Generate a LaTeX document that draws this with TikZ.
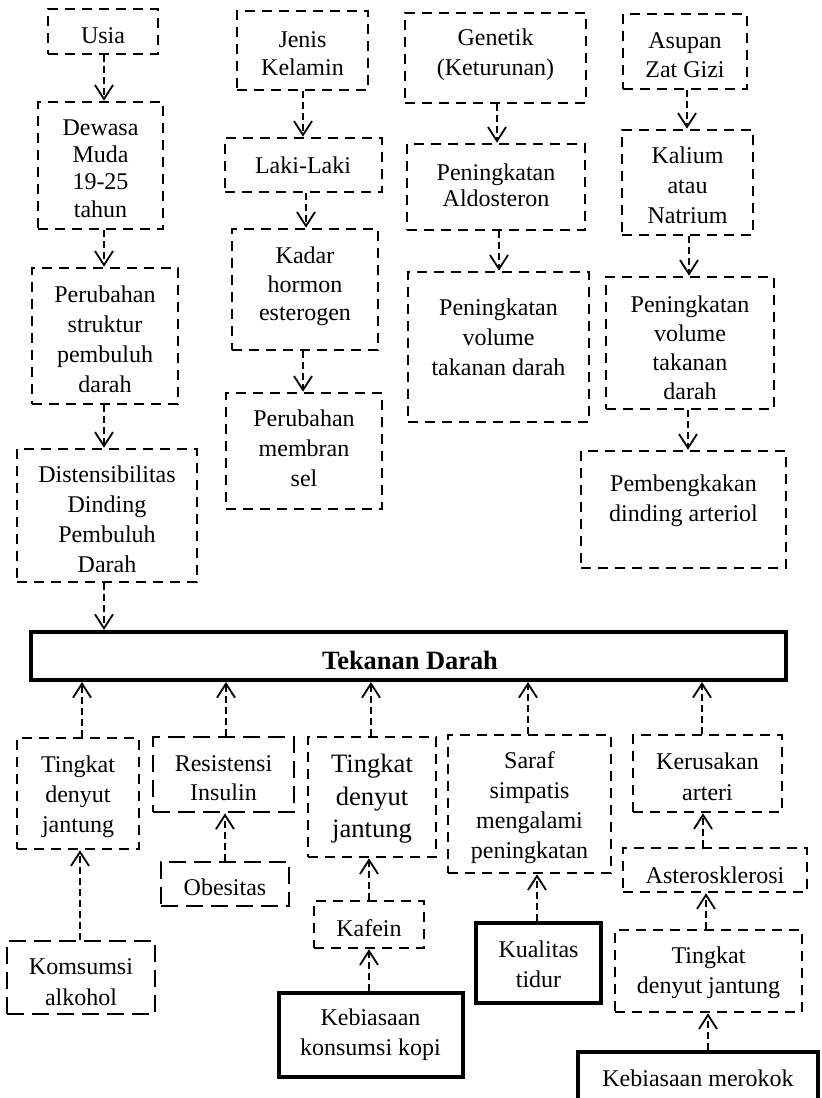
\documentclass[tikz,border=0pt]{standalone}
\usepackage{fontspec}
\setmainfont{Liberation Serif}
\usetikzlibrary{arrows.meta}
\newcommand\bx[6]{\node[#1, minimum width={(#5)-(#3)}, minimum height={(#6)-(#4)}] (#2) at ({((#3)+(#5))/2},{((#4)+(#6))/2}) {};}
\newcommand\cn[3]{\draw[arr] (#1,0 |- #2) -- (#1,0 |- #3);}
\begin{document}
\begin{tikzpicture}[x=1pt,y=-1pt,
  dbox/.style={draw, line width=2.6pt, dash pattern=on 10pt off 7pt, inner sep=0pt},
  lbox/.style={draw, line width=2.9pt, dash pattern=on 17pt off 8pt, inner sep=0pt},
  sbox/.style={draw, line width=4pt, inner sep=0pt},
  txt/.style={align=center, inner sep=0pt, font=\fontsize{24}{30}\selectfont},
  arr/.style={line width=1.8pt, dash pattern=on 7pt off 4pt, -{Straight Barb[length=14pt,width=18pt,line width=1.8pt]}}
]
\useasboundingbox (0,0) rectangle (822,1098);
% ---- top boxes
\bx{dbox}{usia}{48}{9}{158}{54}
\node[txt] (usia-t) at (103,36) {Usia};
\bx{dbox}{dewasa}{38}{102}{163}{229}
\node[txt, font=\fontsize{24}{27.4}\selectfont] (dewasa-t) at (100.5,168.5) {Dewasa\\Muda\\19-25\\tahun};
\bx{dbox}{struktur}{32}{268}{178}{404}
\node[txt] (struktur-t) at (105,339.5) {Perubahan\\struktur\\pembuluh\\darah};
\bx{dbox}{disten}{17}{449}{197}{582}
\node[txt] (disten-t) at (107,519) {Distensibilitas\\Dinding\\Pembuluh\\Darah};
\bx{dbox}{jenis}{237}{11}{368}{90}
\node[txt, font=\fontsize{24}{28}\selectfont] (jenis-t) at (302.5,53.5) {Jenis\\Kelamin};
\bx{dbox}{laki}{225}{138}{382}{192}
\node[txt] (laki-t) at (303,165.5) {Laki-Laki};
\bx{dbox}{kadar}{232}{229}{378}{350}
\node[txt, font=\fontsize{24}{28.5}\selectfont] (kadar-t) at (305,286.5) {Kadar\\hormon\\esterogen};
\bx{dbox}{membran}{226}{393}{382}{509}
\node[txt] (membran-t) at (304,448.5) {Perubahan\\membran\\sel};
\bx{dbox}{genetik}{405}{13}{586}{103}
\node[txt] (genetik-t) at (495.5,55) {Genetik\\(Keturunan)};
\bx{dbox}{aldo}{407}{144}{585}{230}
\node[txt, font=\fontsize{24}{26}\selectfont] (aldo-t) at (496,185.5) {Peningkatan\\Aldosteron};
\bx{dbox}{vol3}{408}{272}{589}{422}
\node[txt] (vol3-t) at (498.5,337.5) {Peningkatan\\volume\\takanan darah};
\bx{dbox}{asupan}{623}{14}{747}{89}
\node[txt, font=\fontsize{24}{29}\selectfont] (asupan-t) at (685,55) {Asupan\\Zat Gizi};
\bx{dbox}{kalium}{622}{130}{753}{235}
\node[txt] (kalium-t) at (687.5,185.5) {Kalium\\atau\\Natrium};
\bx{dbox}{vol4}{606}{277}{774}{409}
\begin{scope}
\clip (600,280) rectangle (780,401);
\node[txt, font=\fontsize{24}{29}\selectfont] (vol4-t) at (690,347.5) {Peningkatan\\volume\\takanan\\darah};
\end{scope}
\bx{dbox}{bengkak}{581}{451}{786}{568}
\node[txt] (bengkak-t) at (683.5,501) {Pembengkakan\\dinding arteriol};
% ---- central box
\bx{sbox}{tekanan}{31}{632}{786}{680}
\node[txt, font=\fontsize{26.4}{30}\selectfont\bfseries] (tekanan-t) at (410,660.5) {Tekanan Darah};
% ---- bottom boxes
\bx{dbox}{tj1}{17}{738}{139}{849}
\node[txt] (tj1-t) at (78,797) {Tingkat\\denyut\\jantung};
\bx{lbox}{resist}{153}{737}{294}{812}
\node[txt, font=\fontsize{24}{29}\selectfont] (resist-t) at (223.5,778.5) {Resistensi\\Insulin};
\bx{lbox}{obes}{161}{862}{289}{906}
\node[txt] (obes-t) at (225,887.5) {Obesitas};
\bx{lbox}{alko}{7}{941}{155}{1014}
\node[txt, font=\fontsize{24}{30.5}\selectfont] (alko-t) at (81,982) {Komsumsi\\alkohol};
\bx{dbox}{tj2}{308}{737}{436}{857}
\node[txt, font=\fontsize{26.6}{32.5}\selectfont] (tj2-t) at (372,799) {Tingkat\\denyut\\jantung};
\bx{dbox}{kafein}{314}{901}{424}{948}
\node[txt] (kafein-t) at (369,928) {Kafein};
\bx{sbox}{kopi}{279}{993}{463}{1077}
\node[txt] (kopi-t) at (370.5,1035) {Kebiasaan\\konsumsi kopi};
\bx{dbox}{saraf}{448}{735}{611}{873}
\node[txt] (saraf-t) at (529.5,807.5) {Saraf\\simpatis\\mengalami\\peningkatan};
\bx{sbox}{kualitas}{476}{923}{601}{1003}
\node[txt] (kualitas-t) at (538.5,964.5) {Kualitas\\tidur};
\bx{dbox}{rusak}{633}{735}{782}{812}
\node[txt, font=\fontsize{24}{31}\selectfont] (rusak-t) at (707.5,777) {Kerusakan\\arteri};
\bx{dbox}{aster}{623}{848}{807}{892}
\node[txt] (aster-t) at (715,875) {Asterosklerosi};
\bx{dbox}{tj3}{615}{930}{802}{1012}
\node[txt] (tj3-t) at (708.5,973) {Tingkat\\denyut jantung};
\bx{sbox}{rokok}{578}{1052}{818}{1112}
\node[txt] (rokok-t) at (698,1078) {Kebiasaan merokok};
% ---- connectors (top)
\cn{104}{usia.south}{dewasa.north}
\cn{104}{dewasa.south}{struktur.north}
\cn{104}{struktur.south}{disten.north}
\cn{104}{disten.south}{tekanan.north}
\cn{303}{jenis.south}{laki.north}
\cn{306}{laki.south}{kadar.north}
\cn{303}{kadar.south}{membran.north}
\cn{497}{genetik.south}{aldo.north}
\cn{499}{aldo.south}{vol3.north}
\cn{687}{asupan.south}{kalium.north}
\cn{689}{kalium.south}{vol4.north}
\cn{688}{vol4.south}{bengkak.north}
% ---- connectors (bottom)
\cn{82}{tj1.north}{tekanan.south}
\cn{226}{resist.north}{tekanan.south}
\cn{371}{tj2.north}{tekanan.south}
\cn{528}{saraf.north}{tekanan.south}
\cn{702}{rusak.north}{tekanan.south}
\cn{80}{alko.north}{tj1.south}
\cn{225}{obes.north}{resist.south}
\cn{369}{kafein.north}{tj2.south}
\cn{369}{kopi.north}{kafein.south}
\cn{537}{kualitas.north}{saraf.south}
\cn{703}{aster.north}{rusak.south}
\cn{706}{tj3.north}{aster.south}
\cn{708}{rokok.north}{tj3.south}
\end{tikzpicture}
\end{document}
